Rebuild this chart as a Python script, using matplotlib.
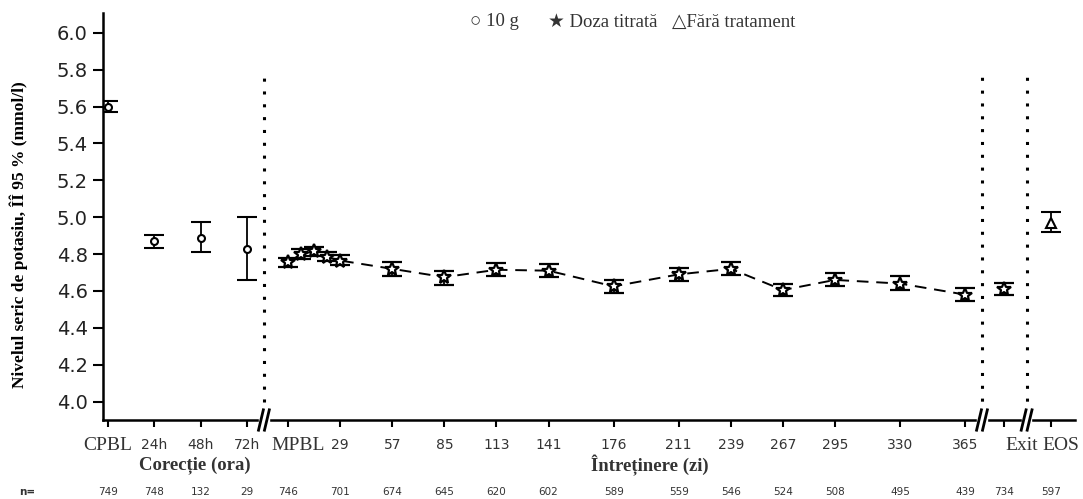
import numpy as np
import matplotlib.pyplot as plt
import matplotlib.transforms as mtransforms

# x positions are on a "day" scale; correction visits are placed before MPBL
corr_labels = ["CPBL", "24h", "48h", "72h"]
corr_x = [-96, -71, -46, -21]
corr_mean = [5.60, 4.87, 4.89, 4.83]
corr_lo = [5.57, 4.835, 4.81, 4.66]
corr_hi = [5.63, 4.905, 4.975, 5.00]

maint_x = [1, 8, 15, 22, 29, 57, 85, 113, 141, 176, 211, 239, 267, 295, 330, 365]
maint_mean = [4.755, 4.80, 4.815, 4.785, 4.765, 4.72, 4.675, 4.715, 4.71, 4.625,
              4.69, 4.72, 4.605, 4.66, 4.64, 4.58]
maint_lo = [4.73, 4.775, 4.79, 4.76, 4.74, 4.68, 4.635, 4.68, 4.675, 4.59,
            4.655, 4.685, 4.575, 4.625, 4.605, 4.545]
maint_hi = [4.78, 4.825, 4.84, 4.81, 4.795, 4.755, 4.71, 4.75, 4.745, 4.66,
            4.725, 4.755, 4.64, 4.70, 4.68, 4.615]

exit_x, exit_mean, exit_lo, exit_hi = 386, 4.61, 4.58, 4.645
eos_x, eos_mean, eos_lo, eos_hi = 411, 4.97, 4.92, 5.03

tick_x = corr_x + [1, 29, 57, 85, 113, 141, 176, 211, 239, 267, 295, 330, 365, 386, 411]
tick_labels = corr_labels + ["MPBL", "29", "57", "85", "113", "141", "176", "211",
                             "239", "267", "295", "330", "365", "Exit", "EOS"]
n_vals = [749, 748, 132, 29, 746, 701, 674, 645, 620, 602, 589, 559, 546, 524,
          508, 495, 439, 734, 597]
breaks_x = [-12, 374, 398]

serif = ["Liberation Serif", "DejaVu Serif"]

fig = plt.figure(figsize=(10.83, 4.99), dpi=100)
ax = fig.add_axes([0.0951, 0.1583, 0.8975, 0.8157])

ekw = dict(ecolor="black", elinewidth=1.3, capsize=7, capthick=2, color="black")

def yerr(m, lo, hi):
    m, lo, hi = np.atleast_1d(m), np.atleast_1d(lo), np.atleast_1d(hi)
    return np.vstack([m - lo, hi - m])

ax.errorbar(corr_x, corr_mean, yerr=yerr(corr_mean, corr_lo, corr_hi), fmt="o",
            ms=5, mfc="white", mec="black", mew=1.5, **ekw)
ax.errorbar(maint_x, maint_mean, yerr=yerr(maint_mean, maint_lo, maint_hi), fmt="*",
            ms=10, mfc="white", mec="black", mew=1.6, zorder=3, **ekw)
ax.plot(maint_x, maint_mean, color="black", lw=1.4, dashes=(6, 4), zorder=2)
ax.errorbar([exit_x], [exit_mean], yerr=yerr(exit_mean, exit_lo, exit_hi), fmt="*",
            ms=10, mfc="white", mec="black", mew=1.6, **ekw)
ax.errorbar([eos_x], [eos_mean], yerr=yerr(eos_mean, eos_lo, eos_hi), fmt="^",
            ms=6.5, mfc="white", mec="black", mew=1.5, **ekw)

# dotted separators
ax.plot([breaks_x[0]] * 2, [4.0, 5.79], color="black", lw=2.2, ls=(0, (1, 3.2)))
for bx in breaks_x[1:]:
    ax.plot([bx] * 2, [3.93, 5.79], color="black", lw=2.2, ls=(0, (1, 3.2)))

ax.set_xlim(-98.5, 424)
ax.set_ylim(3.9, 6.108)
ax.set_yticks(np.arange(4.0, 6.01, 0.2))
ax.set_yticklabels(["%.1f" % v for v in np.arange(4.0, 6.01, 0.2)], fontsize=14,
                   family="DejaVu Sans", color="#222222")
ax.set_xticks(tick_x)
ax.set_xticklabels([])

# x tick labels as texts so a few can sit slightly right of their tick
shift = {"MPBL": 10, "Exit": 17, "EOS": 10}
ltrans = mtransforms.blended_transform_factory(ax.transData, fig.transFigure)
for xv, lab in zip(tick_x, tick_labels):
    t = ltrans + mtransforms.ScaledTranslation(shift.get(lab, 0) / 100, 0,
                                               fig.dpi_scale_trans)
    if lab.isdigit() or lab.endswith("h"):
        ax.text(xv, 1 - 445 / 499, lab, transform=t, fontsize=10, family="DejaVu Sans",
                ha="center", va="center", color="#333333")
    else:
        ax.text(xv, 1 - 445 / 499, lab, transform=t, fontsize=14, family=serif,
                ha="center", va="center", color="#333333")

ax.tick_params(axis="y", direction="out", length=7, width=1.5, pad=4)
ax.tick_params(axis="x", direction="out", length=5, width=1.5)
for s in ["top", "right"]:
    ax.spines[s].set_visible(False)
for s in ["left", "bottom"]:
    ax.spines[s].set_linewidth(1.8)

# axis break marks
trans = mtransforms.blended_transform_factory(ax.transData, ax.transAxes)
for bx in breaks_x:
    ax.add_patch(plt.Rectangle((bx - 2.5, -0.03), 5, 0.06, transform=trans,
                               color="white", clip_on=False, zorder=5))
    for off in (-1.6, 1.6):
        ax.plot([bx + off - 1.3, bx + off + 1.3], [-0.025, 0.025], transform=trans,
                color="black", lw=2, clip_on=False, zorder=6)

ax.set_ylabel("Nivelul seric de potasiu, ÎÎ 95 % (mmol/l)", family=serif,
              fontweight="bold", fontsize=12.5)
ax.yaxis.set_label_coords(-0.077, 0.455)

fig.text(195 / 1083, 1 - 465 / 499, "Corecție (ora)", family=serif, fontweight="bold",
         fontsize=13.5, ha="center", va="center", color="#333333")
fig.text(650 / 1083, 1 - 465 / 499, "Întreținere (zi)", family=serif, fontweight="bold",
         fontsize=13.5, ha="center", va="center", color="#333333")

# n row
fig.text(27 / 1083, 1 - 492 / 499, "n=", fontsize=7.5, family="DejaVu Sans",
         fontweight="bold", ha="center", va="center", color="#333333")
for xv, nv in zip(tick_x, n_vals):
    ax.text(xv, 1 - 492 / 499, str(nv), transform=ltrans, fontsize=7.5,
            family="DejaVu Sans", ha="center", va="center", color="#333333")

# legend
fig.text(470 / 1083, 1 - 22 / 499, "○ 10 g", family=serif + ["DejaVu Sans"],
         fontsize=13.5, va="center", color="#333333")
fig.text(548 / 1083, 1 - 22 / 499, "★ Doza titrată", family=serif + ["DejaVu Sans"],
         fontsize=13.5, va="center", color="#333333")
fig.text(672 / 1083, 1 - 22 / 499, "△Fără tratament", family=serif + ["DejaVu Sans"],
         fontsize=13.5, va="center", color="#333333")

fig.savefig("out.png", dpi=100)
